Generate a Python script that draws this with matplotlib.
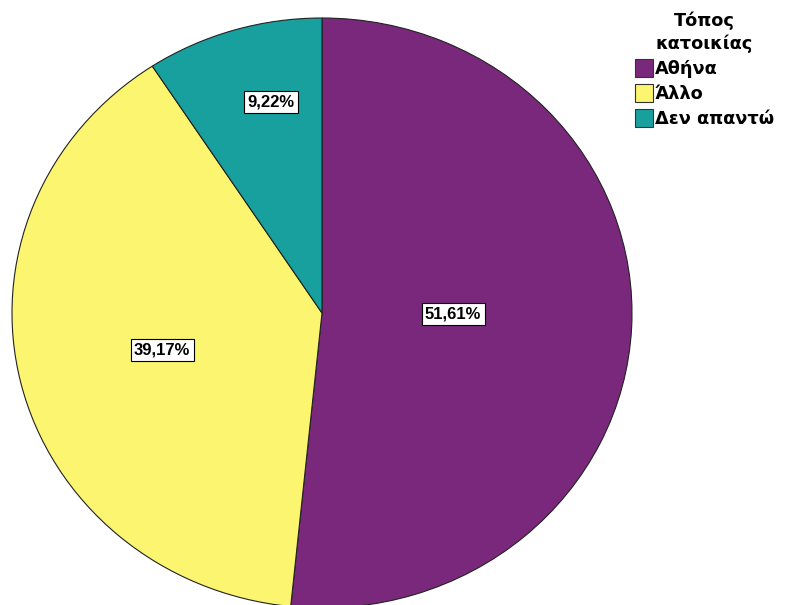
import matplotlib
matplotlib.use("Agg")
import matplotlib.pyplot as plt

plt.rcParams['font.family'] = ['Liberation Sans', 'DejaVu Sans']

# residence categories and their shares (%)
categories = ["Αθήνα", "Άλλο", "Δεν απαντώ"]
shares = [51.61, 39.17, 9.22]
colors = ["#7a287c", "#fbf570", "#17a09e"]
legend_title = "Τόπος\nκατοικίας"

# where each percentage box sits, in pie units (radius = 1)
label_xy = [(0.423, -0.003), (-0.516, -0.125), (-0.165, 0.715)]

fig = plt.figure(figsize=(7.86, 6.05), dpi=100)
ax = fig.add_axes([12 / 786, -3 / 605, 620 / 786, 590 / 605])

wedges, texts, autotexts = ax.pie(
    shares, colors=colors, startangle=90, counterclock=False,
    autopct=lambda p: ("%.2f%%" % p).replace(".", ","),
    wedgeprops=dict(edgecolor="#222222", linewidth=0.8),
    textprops=dict(fontsize=12, fontweight="bold", color="black"),
)
ax.set_aspect("auto")
ax.set_xlim(-1, 1)
ax.set_ylim(-1, 1)
for w in wedges:
    w.set_clip_on(False)

for t, xy in zip(autotexts, label_xy):
    t.set_position(xy)
    t.set_bbox(dict(facecolor="white", edgecolor="black", linewidth=0.8,
                    boxstyle="square", pad=0.2))

leg = fig.legend(
    wedges, categories, title=legend_title, loc="upper left",
    bbox_to_anchor=(635 / 786, 1 - 12 / 605), frameon=False,
    prop=dict(family="DejaVu Sans", size=12.8, weight="bold"),
    title_fontproperties=dict(family="DejaVu Sans", size=12.8, weight="bold"),
    handlelength=1.0, handleheight=1.2,
    handletextpad=0.12, labelspacing=0.32, borderaxespad=0, borderpad=0,
)
leg.get_title().set_multialignment("center")
leg.get_title().set_linespacing(1.3)
for h in leg.legend_handles:
    h.set_edgecolor("#333333")
    h.set_linewidth(0.8)

fig.savefig("out.png", dpi=100)
